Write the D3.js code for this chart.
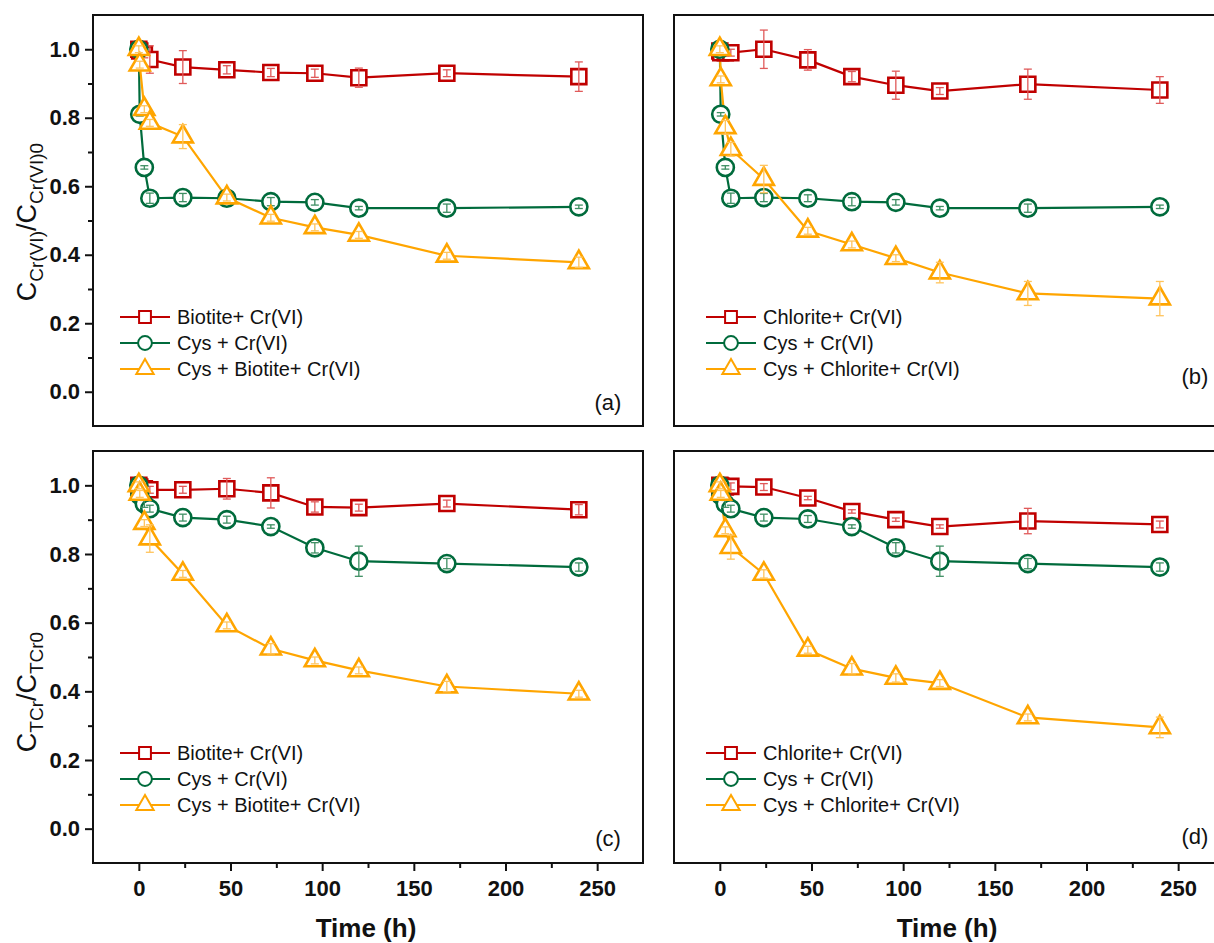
<!DOCTYPE html>
<html>
<head>
<meta charset="utf-8">
<script src="https://cdn.jsdelivr.net/npm/d3@7"></script>
<style>
  body { margin: 0; background: #fff; }
  svg { display: block; font-family: "Liberation Sans", Arial, sans-serif; }
</style>
</head>
<body>
<div id="chart"></div>
<script>
// sampling times (h)
var times = [0, 0.5, 3, 6, 24, 48, 72, 96, 120, 168, 240];

// (a) Cr(VI), biotite
var aMineral    = [1.0, 0.995, 0.985, 0.97, 0.948, 0.94, 0.932, 0.93, 0.917, 0.93, 0.92];
var aCys        = [1.0, 0.81, 0.655, 0.565, 0.567, 0.565, 0.555, 0.553, 0.536, 0.536, 0.54];
var aCysMineral = [1.0, 0.955, 0.825, 0.785, 0.745, 0.567, 0.508, 0.48, 0.458, 0.397, 0.378];
var aMineralErr    = [0.01, 0.01, 0.01, 0.04, 0.048, 0.012, 0.012, 0.012, 0.028, 0.01, 0.043];
var aCysErr        = [0.005, 0.005, 0.005, 0.015, 0.012, 0.01, 0.012, 0.008, 0.005, 0.012, 0.005];
var aCysMineralErr = [0.01, 0.01, 0.01, 0.01, 0.035, 0.01, 0.01, 0.01, 0.01, 0.01, 0.015];

// (b) Cr(VI), chlorite
var bMineral    = [0.995, 0.99, 0.99, 0.99, 1.0, 0.969, 0.92, 0.895, 0.878, 0.898, 0.881];
var bCys        = [1.0, 0.81, 0.655, 0.565, 0.567, 0.565, 0.555, 0.553, 0.536, 0.536, 0.54];
var bCysMineral = [1.0, 0.912, 0.772, 0.708, 0.621, 0.47, 0.43, 0.39, 0.348, 0.287, 0.272];
var bMineralErr    = [0.01, 0.01, 0.01, 0.01, 0.056, 0.03, 0.015, 0.041, 0.01, 0.044, 0.039];
var bCysErr        = [0.005, 0.005, 0.005, 0.015, 0.012, 0.01, 0.012, 0.008, 0.005, 0.012, 0.005];
var bCysMineralErr = [0.01, 0.01, 0.02, 0.02, 0.04, 0.01, 0.01, 0.01, 0.03, 0.035, 0.05];

// (c) total Cr, biotite
var cMineral    = [1.0, 0.995, 0.99, 0.987, 0.987, 0.99, 0.978, 0.937, 0.935, 0.947, 0.929];
var cCys        = [1.0, 0.97, 0.946, 0.932, 0.906, 0.9, 0.88, 0.818, 0.779, 0.772, 0.762];
var cCysMineral = [1.0, 0.975, 0.89, 0.845, 0.742, 0.592, 0.524, 0.49, 0.461, 0.414, 0.393];
var cMineralErr    = [0.01, 0.01, 0.01, 0.01, 0.01, 0.03, 0.044, 0.015, 0.01, 0.01, 0.015];
var cCysErr        = [0.01, 0.01, 0.01, 0.01, 0.01, 0.01, 0.005, 0.015, 0.044, 0.015, 0.012];
var cCysMineralErr = [0.01, 0.01, 0.01, 0.04, 0.01, 0.01, 0.015, 0.01, 0.01, 0.015, 0.01];

// (d) total Cr, chlorite
var dMineral    = [1.0, 0.998, 0.995, 0.997, 0.995, 0.963, 0.924, 0.9, 0.88, 0.896, 0.886];
var dCys        = [1.0, 0.97, 0.946, 0.932, 0.906, 0.902, 0.88, 0.818, 0.779, 0.772, 0.762];
var dCysMineral = [1.0, 0.975, 0.869, 0.82, 0.742, 0.521, 0.466, 0.439, 0.424, 0.324, 0.295];
var dMineralErr    = [0.01, 0.01, 0.01, 0.01, 0.01, 0.005, 0.005, 0.005, 0.005, 0.037, 0.01];
var dCysErr        = [0.01, 0.01, 0.01, 0.01, 0.01, 0.01, 0.005, 0.015, 0.044, 0.015, 0.012];
var dCysMineralErr = [0.01, 0.01, 0.01, 0.035, 0.012, 0.01, 0.015, 0.012, 0.01, 0.01, 0.03];

var legendBiotite  = ["Biotite+ Cr(VI)", "Cys + Cr(VI)", "Cys + Biotite+ Cr(VI)"];
var legendChlorite = ["Chlorite+ Cr(VI)", "Cys + Cr(VI)", "Cys + Chlorite+ Cr(VI)"];
var panelTags = ["(a)", "(b)", "(c)", "(d)"];

var xTicks = [0, 50, 100, 150, 200, 250];
var xMinor = [25, 75, 125, 175, 225];
var yTicks = [0, 0.2, 0.4, 0.6, 0.8, 1.0];
var yMinor = [0.1, 0.3, 0.5, 0.7, 0.9];

var colors    = ["#C00000", "#006B3C", "#FFA500"];
var errColors = ["#E05A5A", "#3F8F63", "#FFC45C"];
var shapes    = [d3.symbolSquare, d3.symbolCircle, d3.symbolTriangle];
var symSize   = [225, 230, 175];
var legSize   = [140, 150, 130];

var W = 1214, H = 943;
var svg = d3.select("#chart").append("svg")
  .attr("width", W)
  .attr("height", H)
  .style("background", "#fff");

var pw = 550;
var panels = [
  { left: 93,  top: 15,  bottom: 426, legend: legendBiotite,  tag: panelTags[0], tagY: 387, legX: 27,
    s: [aMineral, aCys, aCysMineral], e: [aMineralErr, aCysErr, aCysMineralErr], yLab: true, xLab: false },
  { left: 674, top: 15,  bottom: 426, legend: legendChlorite, tag: panelTags[1], tagY: 361, legX: 32,
    s: [bMineral, bCys, bCysMineral], e: [bMineralErr, bCysErr, bCysMineralErr], yLab: false, xLab: false },
  { left: 93,  top: 451, bottom: 863, legend: legendBiotite,  tag: panelTags[2], tagY: 387, legX: 27,
    s: [cMineral, cCys, cCysMineral], e: [cMineralErr, cCysErr, cCysMineralErr], yLab: true, xLab: true },
  { left: 674, top: 451, bottom: 863, legend: legendChlorite, tag: panelTags[3], tagY: 385, legX: 32,
    s: [dMineral, dCys, dCysMineral], e: [dMineralErr, dCysErr, dCysMineralErr], yLab: false, xLab: true }
];

panels.forEach(function(p) {
  var x = d3.scaleLinear().domain([-25, 275]).range([p.left, p.left + pw]);
  var y = d3.scaleLinear().domain([-0.1, 1.1]).range([p.bottom, p.top]);
  var g = svg.append("g");

  // y axis ticks & labels (left panels only)
  if (p.yLab) {
    var ya = g.append("g").attr("transform", "translate(" + p.left + ",0)")
      .call(d3.axisLeft(y).tickValues(yTicks).tickSize(8).tickPadding(5).tickFormat(d3.format(".1f")));
    ya.select(".domain").remove();
    ya.selectAll("line").attr("stroke", "#111").attr("stroke-width", 2);
    ya.selectAll("text").attr("font-size", 22).attr("font-weight", "bold").attr("fill", "#111")
      .attr("font-family", "Liberation Sans, Arial, sans-serif");
    var ym = g.append("g").attr("transform", "translate(" + p.left + ",0)")
      .call(d3.axisLeft(y).tickValues(yMinor).tickSize(5).tickFormat(""));
    ym.select(".domain").remove();
    ym.selectAll("line").attr("stroke", "#111").attr("stroke-width", 2);
  }

  // x axis ticks & labels (bottom panels only)
  if (p.xLab) {
    var xa = g.append("g").attr("transform", "translate(0," + p.bottom + ")")
      .call(d3.axisBottom(x).tickValues(xTicks).tickSize(8).tickPadding(9).tickFormat(d3.format("d")));
    xa.select(".domain").remove();
    xa.selectAll("line").attr("stroke", "#111").attr("stroke-width", 2);
    xa.selectAll("text").attr("font-size", 22).attr("font-weight", "bold").attr("fill", "#111")
      .attr("font-family", "Liberation Sans, Arial, sans-serif");
    var xm = g.append("g").attr("transform", "translate(0," + p.bottom + ")")
      .call(d3.axisBottom(x).tickValues(xMinor).tickSize(5).tickFormat(""));
    xm.select(".domain").remove();
    xm.selectAll("line").attr("stroke", "#111").attr("stroke-width", 2);

    g.append("text")
      .attr("x", p.left + pw / 2 - 2)
      .attr("y", 937)
      .attr("text-anchor", "middle")
      .attr("font-size", 26)
      .attr("font-weight", "bold")
      .attr("fill", "#111")
      .text("Time (h)");
  }

  // series: lines first, then markers with error bars on top
  p.s.forEach(function(vals, k) {
    var pts = times.map(function(t, i) { return { t: t, v: vals[i], e: p.e[k][i] }; });
    var line = d3.line().x(function(d) { return x(d.t); }).y(function(d) { return y(d.v); });
    g.append("path").datum(pts)
      .attr("d", line)
      .attr("fill", "none")
      .attr("stroke", colors[k])
      .attr("stroke-width", 2.2);
  });
  p.s.forEach(function(vals, k) {
    var pts = times.map(function(t, i) { return { t: t, v: vals[i], e: p.e[k][i] }; });
    var sym = d3.symbol().type(shapes[k]).size(symSize[k]);
    g.selectAll(null).data(pts).enter().append("path")
      .attr("d", sym)
      .attr("transform", function(d) { return "translate(" + x(d.t) + "," + y(d.v) + ")"; })
      .attr("fill", "#fff")
      .attr("stroke", colors[k])
      .attr("stroke-width", 2.6);
    var eb = g.selectAll(null).data(pts).enter().append("g")
      .attr("stroke", errColors[k]).attr("stroke-width", 1.3);
    eb.append("line")
      .attr("x1", function(d) { return x(d.t); }).attr("x2", function(d) { return x(d.t); })
      .attr("y1", function(d) { return y(d.v - d.e); }).attr("y2", function(d) { return y(d.v + d.e); });
    eb.append("line")
      .attr("x1", function(d) { return x(d.t) - 4; }).attr("x2", function(d) { return x(d.t) + 4; })
      .attr("y1", function(d) { return y(d.v + d.e); }).attr("y2", function(d) { return y(d.v + d.e); });
    eb.append("line")
      .attr("x1", function(d) { return x(d.t) - 4; }).attr("x2", function(d) { return x(d.t) + 4; })
      .attr("y1", function(d) { return y(d.v - d.e); }).attr("y2", function(d) { return y(d.v - d.e); });
  });

  // frame
  g.append("rect")
    .attr("x", p.left).attr("y", p.top)
    .attr("width", pw).attr("height", p.bottom - p.top)
    .attr("fill", "none")
    .attr("stroke", "#111")
    .attr("stroke-width", 2);

  // legend
  var lg = g.append("g").attr("transform", "translate(" + (p.left + p.legX) + "," + (p.top + 302) + ")");
  p.legend.forEach(function(name, k) {
    var row = lg.append("g").attr("transform", "translate(0," + (k * 26) + ")");
    row.append("line").attr("x1", 0).attr("x2", 50).attr("y1", 0).attr("y2", 0)
      .attr("stroke", colors[k]).attr("stroke-width", 2);
    row.append("path")
      .attr("d", d3.symbol().type(shapes[k]).size(legSize[k]))
      .attr("transform", "translate(25,0)")
      .attr("fill", "#fff")
      .attr("stroke", colors[k])
      .attr("stroke-width", 2);
    row.append("text")
      .attr("x", 57).attr("y", 0)
      .attr("dy", "0.35em")
      .attr("font-size", 20)
      .attr("fill", "#111")
      .text(name);
  });

  // panel tag
  g.append("text")
    .attr("x", p.left + pw - (p.left > 600 ? 29 : 35))
    .attr("y", p.top + p.tagY)
    .attr("text-anchor", "middle")
    .attr("dy", "0.35em")
    .attr("font-size", 22)
    .attr("fill", "#111")
    .text(p.tag);
});

// y axis titles
function yTitle(cx, cy, sub1, sub2) {
  var t = svg.append("text")
    .attr("transform", "translate(" + cx + "," + cy + ") rotate(-90)")
    .attr("text-anchor", "middle")
    .attr("fill", "#111")
    .attr("font-size", 27);
  t.append("tspan").text("C");
  t.append("tspan").attr("font-size", 19).attr("dy", 7).text(sub1);
  t.append("tspan").attr("dy", -7).text("/C");
  t.append("tspan").attr("font-size", 19).attr("dy", 7).text(sub2);
}
yTitle(36, 222, "Cr(VI)", "Cr(VI)0");
yTitle(36, 692, "TCr", "TCr0");
</script>
</body>
</html>
